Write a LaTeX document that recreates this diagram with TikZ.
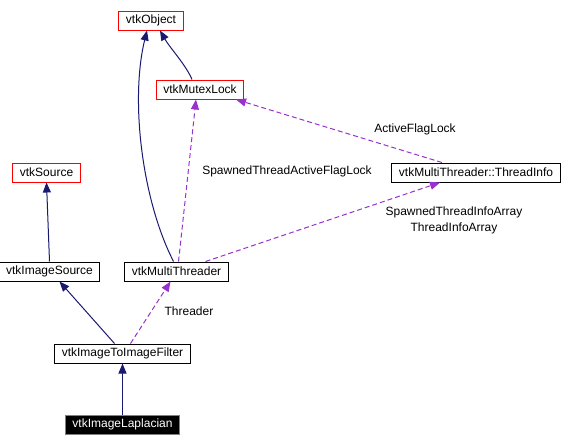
\documentclass[tikz,border=0pt]{standalone}
\usepackage{fontspec}
\setmainfont{Liberation Sans}
\usetikzlibrary{positioning, arrows.meta}

\definecolor{navyedge}{RGB}{25,25,112}
\definecolor{orchidedge}{RGB}{153,50,204}

\begin{document}
\begin{tikzpicture}[
    x=1pt, y=-1pt,
    cls/.style={rectangle, draw=black, fill=white, line width=1pt, minimum height=19pt, inner xsep=7pt, inner ysep=0pt, font=\fontsize{12}{14}\selectfont},
    ext/.style={cls, draw=red},
    self/.style={cls, fill=black, draw=gray, text=white},
    inh/.style={-{Triangle[length=10pt, width=8pt]}, draw=navyedge, line width=1pt},
    use/.style={-{Triangle[length=10pt, width=8pt]}, draw=orchidedge, line width=1pt, dash pattern=on 5pt off 3pt},
    lbl/.style={inner sep=0pt, font=\fontsize{12}{16}\selectfont},
]
    \useasboundingbox (0,0) rectangle (565,445);

    % Nodes
    \node[ext] (object)  at (151,20.5)   {vtkObject};
    \node[ext] (mutex)   at (200,89.5)   {vtkMutexLock};
    \node[ext] (source)  at (46.5,172.5) {vtkSource};
    \node[cls] (info)    at (476,172.5)  {vtkMultiThreader::ThreadInfo};
    \node[cls] (imgsrc)  at (49.5,271.5) {vtkImageSource};
    \node[cls] (threader) [right=24pt of imgsrc] {vtkMultiThreader};
    \node[cls] (filter)  at (122.5,353.5) {vtkImageToImageFilter};
    \node[self] (laplace) [below=51pt of filter] {vtkImageLaplacian};

    % Labels
    \node[lbl] (lblactive)   at (415,129) {ActiveFlagLock};
    \node[lbl] (lblspawned)  at (287,171) {SpawnedThreadActiveFlagLock};
    \node[lbl, align=center] (lblinfo) at (454,220) {SpawnedThreadInfoArray\\ThreadInfoArray};
    \node[lbl] (lblthreader) at (189,311) {Threader};

    % Lines
    \draw[inh] (imgsrc.north) -- (source.south);
    \draw[inh] ([xshift=-8pt]filter.north) -- ([xshift=10pt]imgsrc.south);
    \draw[inh] (laplace.north) -- (filter.south);
    \draw[inh] ([xshift=-3pt]threader.north) .. controls (142,200) and (130,100) .. ([xshift=-4pt]object.south);
    \draw[inh] ([xshift=-8pt]mutex.north) .. controls (186,65) and (170,48) .. ([xshift=9pt]object.south);

    \draw[use] ([xshift=2pt]threader.north) -- ([xshift=-4pt]mutex.south);
    \draw[use] ([xshift=-34pt]info.north) -- ([xshift=36pt]mutex.south);
    \draw[use] ([xshift=29pt]threader.north) -- ([xshift=-36pt]info.south);
    \draw[use] ([xshift=8pt]filter.north) -- ([xshift=-6pt]threader.south);

\end{tikzpicture}
\end{document}
